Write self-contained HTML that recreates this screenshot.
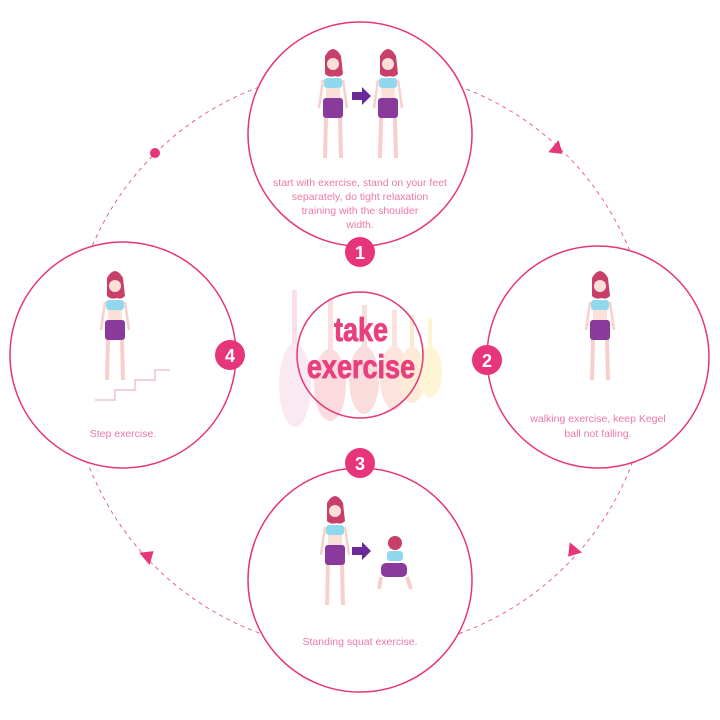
<!DOCTYPE html>
<html><head><meta charset="utf-8"><style>
html,body{margin:0;padding:0;background:#fff;width:720px;height:720px;overflow:hidden}
svg{display:block}
.t{font-family:"Liberation Sans",sans-serif;fill:#ec78a8;font-size:10.5px;text-anchor:middle}
.n{font-family:"Liberation Sans",sans-serif;fill:#fff;font-weight:bold;font-size:18px;text-anchor:middle}
</style></head><body>
<svg width="720" height="720" viewBox="0 0 720 720">
<defs>
<g id="girl">
  <path d="M-8,-52 q8,-14 16,0 l2,18 q-4,4 -8,2 q-6,2 -10,-2z" fill="#c8406a"/>
  <circle cx="0" cy="-44" r="6" fill="#fbe0d8"/>
  <rect x="-9" y="-30" width="18" height="10" rx="3" fill="#8fd8ee"/>
  <rect x="-7" y="-20" width="14" height="10" fill="#fbe0d8"/>
  <rect x="-10" y="-10" width="20" height="20" rx="3" fill="#8a3a9a"/>
  <path d="M-7,10 l-1,40 M7,10 l1,40" stroke="#f7d0cc" stroke-width="4" fill="none"/>
  <path d="M-10,-28 l-4,28 M10,-28 l4,28" stroke="#f7d0cc" stroke-width="2.5" fill="none"/>
</g>
</defs>
<circle cx="360" cy="360" r="291" fill="none" stroke="#e9609a" stroke-width="1" stroke-dasharray="4,4"/>
<circle cx="155" cy="153" r="5" fill="#e6357a"/>
<polygon points="552,142 564,150 552,158" fill="#e6357a" transform="rotate(40 558 150)"/>
<polygon points="566,544 578,552 566,560" fill="#e6357a" transform="rotate(130 572 552)"/>
<polygon points="143,547 155,555 143,563" fill="#e6357a" transform="rotate(-40 149 555)"/>
<g opacity="0.35">
  <rect x="292" y="290" width="5" height="80" fill="#f4a8c8"/><ellipse cx="295" cy="385" rx="16" ry="42" fill="#f4c2dc"/>
  <rect x="328" y="298" width="5" height="70" fill="#f7a0a8"/><ellipse cx="330" cy="385" rx="16" ry="36" fill="#f59aa0"/>
  <rect x="362" y="305" width="5" height="60" fill="#f7a0a0"/><ellipse cx="364" cy="380" rx="15" ry="34" fill="#f59c9c"/>
  <rect x="392" y="310" width="5" height="55" fill="#f7b0a0"/><ellipse cx="394" cy="378" rx="14" ry="32" fill="#f7b09a"/>
  <rect x="410" y="315" width="4" height="45" fill="#f8c08a"/><ellipse cx="412" cy="375" rx="13" ry="28" fill="#f8c890"/>
  <rect x="428" y="318" width="4" height="40" fill="#fbe080"/><ellipse cx="430" cy="372" rx="12" ry="26" fill="#fbe48a"/>
</g>
<circle cx="360" cy="355" r="63" fill="none" stroke="#e6357a" stroke-width="1.5"/>
<g transform="translate(361,0) scale(0.82,1)" font-family="Liberation Sans, sans-serif" font-weight="bold" font-size="33" fill="#e8407f" stroke="#e8407f" stroke-width="0.8" text-anchor="middle">
<text x="0" y="341">take</text>
<text x="0" y="378">exercise</text>
</g>
<g fill="#fff" stroke="#e6357a" stroke-width="1.5">
<circle cx="360" cy="134" r="112"/>
<circle cx="598" cy="357" r="111"/>
<circle cx="360" cy="580" r="112"/>
<circle cx="123" cy="355" r="113"/>
</g>
<use href="#girl" x="333" y="108"/>
<use href="#girl" x="388" y="108"/>
<polygon points="352,92 362,92 362,87 371,96 362,105 362,100 352,100" fill="#6a2a9a"/>
<use href="#girl" x="600" y="330"/>
<use href="#girl" x="115" y="330"/>
<path d="M95,400 h20 v-10 h20 v-10 h20 v-10 h15" fill="none" stroke="#f0c0cc" stroke-width="1.5"/>
<use href="#girl" x="335" y="555"/>
<polygon points="352,547 362,547 362,542 371,551 362,560 362,555 352,555" fill="#6a2a9a"/>
<g transform="translate(395,565)"><circle cx="0" cy="-22" r="7" fill="#c8406a"/><rect x="-8" y="-14" width="16" height="10" rx="3" fill="#8fd8ee"/><rect x="-14" y="-2" width="26" height="14" rx="5" fill="#8a3a9a"/><path d="M-14,12 l-2,12 M12,12 l4,12" stroke="#f7d0cc" stroke-width="4"/></g>
<text class="t" x="360" y="186">start with exercise, stand on your feet</text>
<text class="t" x="360" y="200">separately, do tight relaxation</text>
<text class="t" x="360" y="214">training with the shoulder</text>
<text class="t" x="360" y="228">width.</text>
<text class="t" x="598" y="422">walking exercise, keep Kegel</text>
<text class="t" x="598" y="437">ball not falling.</text>
<text class="t" x="123" y="437">Step exercise.</text>
<text class="t" x="360" y="645">Standing squat exercise.</text>
<g fill="#e6357a">
<circle cx="360" cy="252" r="15"/><circle cx="487" cy="360" r="15"/><circle cx="360" cy="463" r="15"/><circle cx="230" cy="355" r="15"/>
</g>
<text class="n" x="360" y="259">1</text>
<text class="n" x="487" y="367">2</text>
<text class="n" x="360" y="470">3</text>
<text class="n" x="230" y="362">4</text>
</svg>
</body></html>
